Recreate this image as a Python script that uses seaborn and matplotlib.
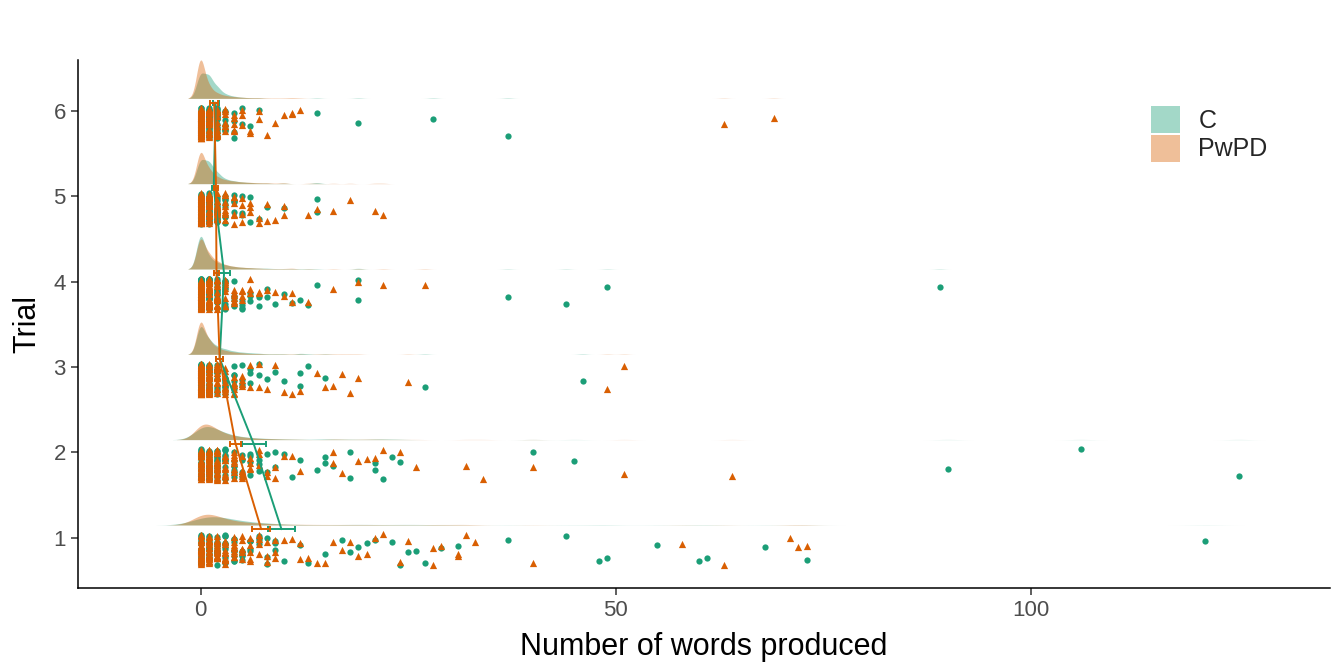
import numpy as np
import pandas as pd
import seaborn as sns
import matplotlib.pyplot as plt
from matplotlib.patches import Patch

# word counts: frequency of 0..9 words, then the single larger values
low_values = [0, 1, 2, 3, 4, 5, 6, 7, 8, 9]
trials = [1, 2, 3, 4, 5, 6]
groups = ["C", "PwPD"]

c1_low = [20, 20, 16, 12, 9, 6, 5, 4, 3, 3]
c1_tail = [10, 12, 13, 15, 17, 18, 19, 20, 21, 23, 24, 25, 26, 27, 29, 31,
           37, 44, 48, 49, 55, 60, 61, 68, 73, 121]
p1_low = [38, 28, 18, 12, 9, 6, 5, 4, 3, 3]
p1_tail = [10, 11, 12, 12, 13, 14, 15, 16, 17, 18, 19, 20, 21, 22, 24, 25,
           28, 28, 29, 31, 31, 32, 33, 40, 58, 63, 71, 72, 73]
c2_low = [35, 30, 18, 12, 8, 5, 4, 3, 2, 2]
c2_tail = [10, 11, 12, 14, 15, 15, 16, 18, 18, 21, 21, 22, 23, 24, 40, 45,
           90, 106, 125]
p2_low = [50, 38, 22, 13, 9, 6, 4, 3, 2, 2]
p2_tail = [10, 11, 12, 16, 16, 17, 19, 20, 21, 22, 24, 26, 32, 34, 40, 51, 64]
c3_low = [60, 28, 15, 10, 6, 4, 3, 2, 1, 1]
c3_tail = [10, 12, 12, 13, 15, 27, 46]
p3_low = [100, 38, 18, 10, 6, 4, 2, 2, 1, 1]
p3_tail = [10, 11, 12, 14, 15, 16, 17, 18, 19, 25, 49, 51]
c4_low = [95, 30, 16, 10, 6, 4, 3, 2, 2, 1]
c4_tail = [10, 11, 12, 13, 14, 19, 19, 37, 44, 49, 89]
p4_low = [80, 35, 18, 10, 6, 4, 3, 2, 1, 1]
p4_tail = [10, 11, 11, 13, 16, 19, 22, 27]
c5_low = [45, 40, 20, 8, 5, 3, 2, 1, 1, 0]
c5_tail = [10, 14, 14]
p5_low = [85, 35, 16, 9, 6, 4, 3, 2, 2, 1]
p5_tail = [10, 10, 13, 14, 16, 18, 21, 22]
c6_low = [50, 45, 22, 8, 4, 2, 1, 1, 0, 0]
c6_tail = [14, 19, 28, 37]
p6_low = [130, 35, 15, 8, 5, 3, 2, 2, 1, 1]
p6_tail = [10, 11, 11, 12, 63, 69]

lows = {"C": [c1_low, c2_low, c3_low, c4_low, c5_low, c6_low],
        "PwPD": [p1_low, p2_low, p3_low, p4_low, p5_low, p6_low]}
tails = {"C": [c1_tail, c2_tail, c3_tail, c4_tail, c5_tail, c6_tail],
         "PwPD": [p1_tail, p2_tail, p3_tail, p4_tail, p5_tail, p6_tail]}

rows = []
for g in groups:
    for i, t in enumerate(trials):
        vals = list(np.repeat(low_values, lows[g][i])) + tails[g][i]
        for v in vals:
            rows.append((g, t, v))
df = pd.DataFrame(rows, columns=["group", "trial", "words"])
df["ypts"] = df["trial"] - 0.14
df["ybar"] = df["trial"] + 0.1

palette = {"C": "#1b9e77", "PwPD": "#d95f02"}

sns.set_style("ticks")
plt.rcParams["font.family"] = ["Liberation Sans", "DejaVu Sans"]

fig, ax = plt.subplots(figsize=(13.38, 6.66), dpi=100)
fig.subplots_adjust(left=0.058, right=0.994, bottom=0.117, top=0.91)


def kde(v, grid, bw):
    z = (grid[:, None] - v[None, :]) / bw
    return np.exp(-0.5 * z ** 2).sum(1) / (len(v) * bw * np.sqrt(2 * np.pi))


# half violins above each trial
dens = []
for t in trials:
    for g in groups:
        v = df.loc[(df.group == g) & (df.trial == t), "words"].to_numpy(float)
        iqr = np.subtract(*np.percentile(v, [75, 25]))
        bw = max(0.9 * min(v.std(ddof=1), iqr / 1.34) * len(v) ** -0.2, 0.5)
        grid = np.linspace(v.min() - 3 * bw, v.max() + 3 * bw, 1000)
        dens.append((t, g, grid, kde(v, grid, bw)))
scale = 0.45 / max(d.max() for _, _, _, d in dens)
for t, g, grid, d in dens:
    ax.fill_between(grid, t + 0.15, t + 0.15 + d * scale, color=palette[g],
                    alpha=0.4, linewidth=0, zorder=1)

np.random.seed(7)
sns.stripplot(data=df[df.group == "C"], x="words", y="ypts", orient="h",
              native_scale=True, jitter=0.18, color=palette["C"], marker="o",
              size=4.5, linewidth=0, ax=ax, zorder=3)
sns.stripplot(data=df[df.group == "PwPD"], x="words", y="ypts", orient="h",
              native_scale=True, jitter=0.18, color=palette["PwPD"], marker="^",
              size=5.2, linewidth=0, ax=ax, zorder=3)

sns.lineplot(data=df, x="words", y="ybar", hue="group", palette=palette,
             orient="y", errorbar="se", err_style="bars", linewidth=1.4,
             err_kws={"capsize": 2.5, "elinewidth": 1.4, "capthick": 1.4,
                      "zorder": 4},
             legend=False, ax=ax, zorder=4)

ax.set_xlim(-14.8, 136)
ax.set_ylim(0.41, 6.6)
ax.set_xticks([0, 50, 100])
ax.set_yticks(trials)
ax.set_xlabel("Number of words produced", fontsize=22, color="black",
              labelpad=8)
ax.set_ylabel("Trial", fontsize=22, color="black", labelpad=8)
sns.despine(ax=ax)
for s in ["left", "bottom"]:
    ax.spines[s].set_linewidth(1.1)
    ax.spines[s].set_color("black")
ax.tick_params(length=5, width=1.1, color="#333333", labelsize=16,
               labelcolor="#4d4d4d")

handles = [Patch(facecolor=palette[g], alpha=0.4, edgecolor="none", label=g)
           for g in groups]
ax.legend(handles=handles, loc="upper left", frameon=False, fontsize=18,
          bbox_to_anchor=(1131 / 1338, 1 - 86 / 666),
          bbox_transform=fig.transFigure, handlelength=1.15, handleheight=1.3,
          labelspacing=0.05, handletextpad=0.75, borderpad=0.3)

fig.savefig("out.png", dpi=100)
